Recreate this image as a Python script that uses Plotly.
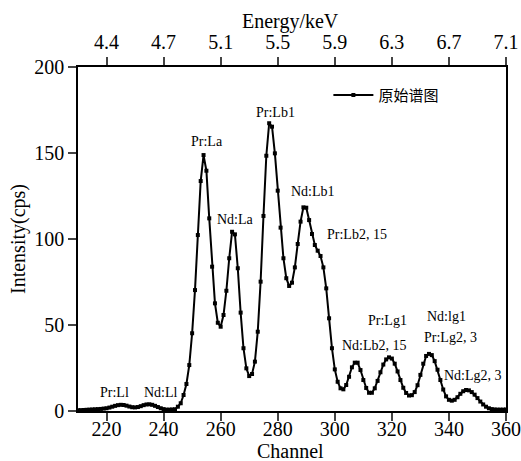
import plotly.graph_objects as go

channels = list(range(210, 361))
intensity = [
    0.5, 0.5, 0.6, 0.7, 0.8, 0.9, 1.0, 1.1, 1.2, 1.4,          # 210-219
    1.6, 2.0, 2.5, 3.0, 3.4, 3.6, 3.5, 3.1, 2.6, 2.2,          # 220-229
    2.1, 2.3, 2.8, 3.4, 3.8, 3.9, 3.6, 3.0, 2.3, 1.6,          # 230-239
    1.1, 0.8, 0.8, 0.9, 1.0, 2.5, 4.5, 9.3, 15.7, 26.7,        # 240-249
    45.2, 70.3, 102.3, 133.7, 148.8, 139.7, 112.0, 83.9, 62.6, 51.3,  # 250-259
    49.0, 55.8, 69.9, 88.8, 104.2, 102.7, 83.0, 57.2, 36.5, 24.8,     # 260-269
    20.3, 21.5, 28.7, 46.1, 75.2, 113.4, 148.4, 167.3, 165.3, 149.8,  # 270-279
    128.1, 106.6, 88.8, 77.2, 72.7, 74.6, 83.5, 97.1, 110.1, 118.4,   # 280-289
    118.2, 111.0, 102.9, 96.5, 93.2, 90.1, 83.5, 71.3, 53.9, 36.5,    # 290-299
    24.2, 17.0, 13.2, 12.6, 15.1, 19.9, 25.4, 28.1, 28.1, 23.8,       # 300-309
    18.0, 13.4, 10.6, 10.6, 13.2, 17.5, 22.5, 27.0, 30.0, 31.2,       # 310-319
    30.5, 27.5, 23.0, 18.0, 13.5, 10.5, 9.0, 9.2, 11.0, 15.0,         # 320-329
    21.0, 27.5, 32.0, 33.2, 32.5, 29.0, 24.0, 18.0, 12.5, 8.5,        # 330-339
    6.5, 6.0, 6.5, 8.0, 10.0, 11.5, 12.2, 12.0, 11.0, 9.5,            # 340-349
    7.5, 5.5, 3.8, 2.5, 1.6, 1.1, 0.9, 0.8, 0.8, 0.8,                 # 350-359
    0.8,                                                              # 360
]

channel_ticks = [220, 240, 260, 280, 300, 320, 340, 360]
energy_ticks = ["4.4", "4.7", "5.1", "5.5", "5.9", "6.3", "6.7", "7.1"]
y_ticks = [0, 50, 100, 150, 200]

peak_labels = ["Pr:Ll", "Nd:Ll", "Pr:La", "Nd:La", "Pr:Lb1", "Nd:Lb1", "Pr:Lb2, 15",
               "Pr:Lg1", "Nd:Lb2, 15", "Nd:lg1", "Pr:Lg2, 3", "Nd:Lg2, 3"]
label_x = [222.7, 239.1, 255.1, 265.2, 279.1, 292.5, 307.8, 318.5, 314.0, 339.0, 340.5, 348.3]
label_y = [10.8, 10.8, 156.6, 111.5, 173.4, 127.5, 102.7, 52.9, 37.8, 54.8, 42.8, 20.9]

serif = "Liberation Serif, Times New Roman, serif"

fig = go.Figure()
fig.add_trace(go.Scatter(
    x=channels, y=intensity, mode="lines+markers", name="原始谱图",
    line=dict(color="black", width=2),
    marker=dict(symbol="square", size=4, color="black"),
))
# invisible trace to bind the top energy axis
fig.add_trace(go.Scatter(x=[channels[0], channels[-1]], y=[0, 0], xaxis="x2",
                         mode="lines", line=dict(width=0), showlegend=False,
                         hoverinfo="skip", opacity=0))

for t, xx, yy in zip(peak_labels, label_x, label_y):
    fig.add_annotation(x=xx, y=yy, text=t, showarrow=False,
                       font=dict(family=serif, size=14, color="black"))

# axis titles
tfont = dict(family=serif, size=20, color="black")
fig.add_annotation(text="Channel", xref="paper", yref="paper", x=0.497, y=0,
                   yanchor="middle", yshift=-40, showarrow=False, font=tfont)
fig.add_annotation(text="Energy/keV", xref="paper", yref="paper", x=0.497, y=1,
                   yanchor="middle", yshift=46, showarrow=False, font=tfont)
fig.add_annotation(text="Intensity(cps)", xref="paper", yref="paper", x=0, y=0.5,
                   xanchor="center", xshift=-60, textangle=-90, showarrow=False,
                   font=dict(family=serif, size=20, color="black"))

axis_common = dict(ticks="outside", ticklen=8, tickwidth=1.5, linecolor="black",
                   linewidth=1.5, showline=True, showgrid=False, zeroline=False,
                   automargin=False, tickfont=dict(family=serif, size=20, color="black"))

fig.update_layout(
    width=521, height=461,
    margin=dict(l=78, r=15, t=67, b=50),
    paper_bgcolor="white", plot_bgcolor="white",
    font=dict(family=serif, size=20, color="black"),
    showlegend=True,
    legend=dict(x=0.585, y=0.966, xanchor="left", yanchor="top",
                bgcolor="rgba(0,0,0,0)", itemwidth=40,
                font=dict(family="Noto Sans CJK SC", size=15, color="black")),
    xaxis=dict(range=[210, 360], tickvals=channel_ticks, ticklabelstandoff=-9,
               **axis_common),
    xaxis2=dict(range=[210, 360], overlaying="x", side="top", anchor="y",
                tickvals=channel_ticks, ticktext=energy_ticks, **axis_common),
    yaxis=dict(range=[0, 200], tickvals=y_ticks, mirror=True, **axis_common),
)

fig.write_html("out.html", config={"displayModeBar": False},
               post_script="document.body.style.margin='0';document.body.style.padding='0';")
